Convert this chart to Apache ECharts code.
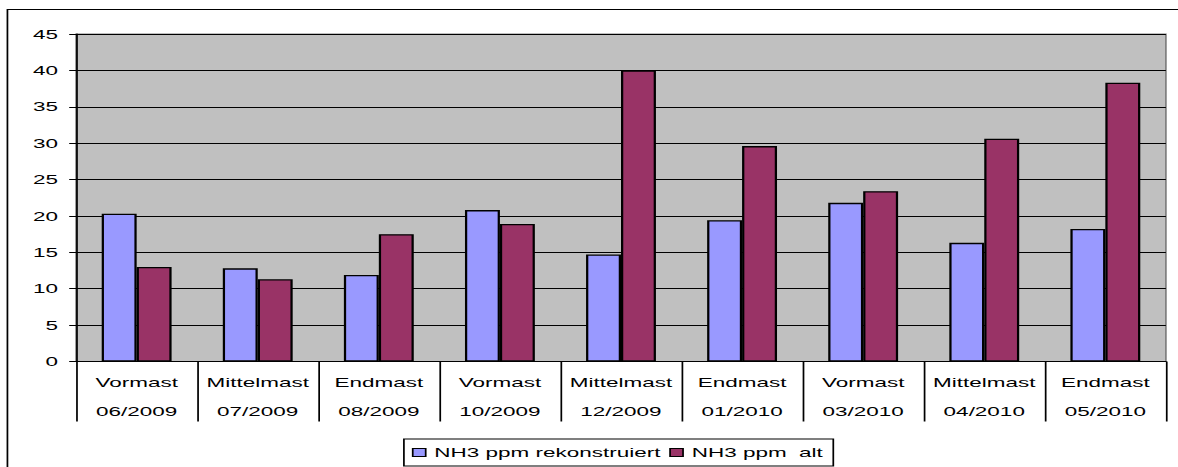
<!DOCTYPE html>
<html>
<head>
<meta charset="utf-8">
<script src="https://cdn.jsdelivr.net/npm/echarts@6/dist/echarts.min.js"></script>
<style>
  html, body { margin: 0; padding: 0; background: #fff; overflow: hidden; }
  /* The chart is laid out narrow and stretched wide, giving the broad lettering of the sheet */
  #chart {
    width: 681px;
    height: 467px;
    transform: scaleX(1.7298);
    transform-origin: 0 0;
  }
</style>
</head>
<body>
<div id="chart"></div>
<script>
// Fattening phases and sampling months
const phases = ['Vormast', 'Mittelmast', 'Endmast', 'Vormast', 'Mittelmast', 'Endmast', 'Vormast', 'Mittelmast', 'Endmast'];
const months = ['06/2009', '07/2009', '08/2009', '10/2009', '12/2009', '01/2010', '03/2010', '04/2010', '05/2010'];

// NH3 concentrations in ppm
const nh3Rekonstruiert = [20.3, 12.8, 11.9, 20.8, 14.7, 19.4, 21.8, 16.3, 18.2];
const nh3Alt = [13.0, 11.3, 17.5, 18.9, 40.0, 29.6, 23.4, 30.6, 38.3];

const seriesNames = ['NH3 ppm rekonstruiert', 'NH3 ppm  alt'];
const yTicks = { min: 0, max: 45, step: 5 };

const categories = phases.map((p, i) => p + '\n' + months[i]);

const chart = echarts.init(document.getElementById('chart'), null, { renderer: 'svg' });
const font = 'Liberation Sans, Arial, sans-serif';

chart.setOption({
  animation: false,
  backgroundColor: '#ffffff',
  graphic: [{
    type: 'rect',
    shape: { x: 4.3, y: 9.5, width: 700, height: 500 },
    style: { fill: 'none', stroke: '#000', lineWidth: 1 },
    silent: true
  }],
  grid: {
    left: 44, right: 7, top: 34, bottom: 105.5,
    show: true,
    backgroundColor: '#C0C0C0',
    borderColor: '#808080',
    borderWidth: 1
  },
  legend: {
    data: seriesNames,
    left: 233.5,
    top: 439,
    padding: [7, 6, 7, 4.6],
    borderColor: '#000',
    borderWidth: 1,
    itemWidth: 7.5,
    itemHeight: 8,
    itemGap: 5,
    icon: 'rect',
    itemStyle: { borderColor: '#000', borderWidth: 1 },
    textStyle: { fontFamily: font, fontSize: 13, color: '#000' }
  },
  xAxis: {
    type: 'category',
    data: categories,
    axisLine: { show: true, lineStyle: { color: '#000', width: 1 } },
    axisTick: {
      show: true,
      alignWithLabel: false,
      length: 60,
      lineStyle: { color: '#000', width: 1 }
    },
    axisLabel: {
      interval: 0,
      margin: 6,
      fontFamily: font,
      fontSize: 13,
      color: '#000',
      lineHeight: 29
    }
  },
  yAxis: {
    type: 'value',
    min: yTicks.min,
    max: yTicks.max,
    interval: yTicks.step,
    axisLine: { show: true, lineStyle: { color: '#000', width: 1 } },
    axisTick: { show: true, length: 4, lineStyle: { color: '#000' } },
    axisLabel: { fontFamily: font, fontSize: 13, color: '#000', margin: 10.4 },
    splitLine: { show: true, lineStyle: { color: '#000', width: 1 } }
  },
  series: [
    {
      name: seriesNames[0],
      type: 'bar',
      data: nh3Rekonstruiert,
      barWidth: 20.2,
      barGap: '0%',
      itemStyle: { color: '#9999FF', borderColor: '#000', borderWidth: 1.3 }
    },
    {
      name: seriesNames[1],
      type: 'bar',
      data: nh3Alt,
      barWidth: 20.2,
      barGap: '0%',
      itemStyle: { color: '#993366', borderColor: '#000', borderWidth: 1.3 }
    }
  ]
});
</script>
</body>
</html>
